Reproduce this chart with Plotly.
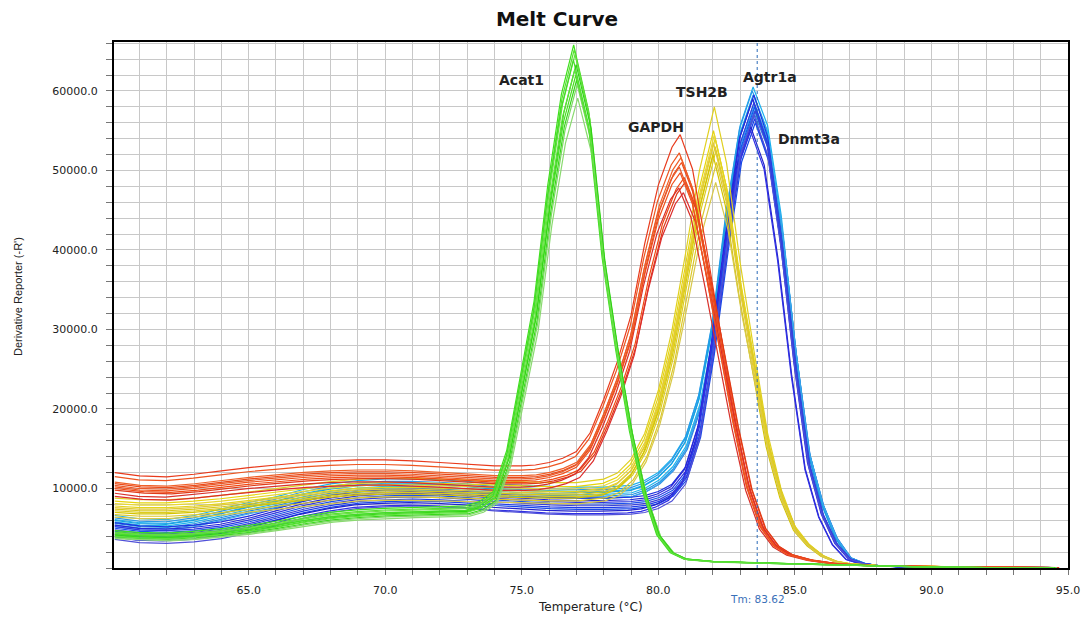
import numpy as np
import plotly.graph_objects as go

# ---------------- data ----------------
gene_names = ["Agtr1a", "Dnmt3a", "TSH2B", "GAPDH", "Acat1"]

acat1_temps = [60.1, 61, 62, 63, 64, 65, 66, 67, 68, 69, 70, 71, 72, 73, 73.5, 74, 74.5, 75,
               75.5, 76, 76.5, 76.95, 77.5, 78, 78.5, 79, 79.5, 80, 80.5, 81, 82, 84, 86, 88,
               90, 92, 94.5]
acat1_deriv = [4300, 4100, 4000, 4200, 4500, 4900, 5400, 6000, 6500, 6800, 7000, 7100, 7200,
               7300, 7800, 9000, 14000, 23000, 32000, 46000, 57000, 63000, 55000, 38500,
               27000, 17000, 9300, 4100, 1900, 1100, 800, 600, 450, 250, 120, 60, 30]
acat1_peaks = [65800, 62000, 65200, 61400, 64600, 60800, 63900, 59100, 63300, 62700]
acat1_base = [4700, 4300, 4500, 3900, 4400, 3800, 4200, 3700, 4100, 4000]
acat1_shift = [-0.05, 0.03, -0.03, 0.06, 0.0, 0.08, -0.06, 0.1, 0.04, -0.01]

gapdh_temps = [60.1, 61, 62, 63, 64, 65, 66, 67, 68, 69, 70, 71, 72, 73, 74, 75, 75.5, 76,
               76.5, 77, 77.5, 78, 78.5, 79, 79.5, 80, 80.5, 80.8, 81.25, 81.75, 82.25, 82.75,
               83.25, 83.75, 84.25, 84.75, 85.5, 86.5, 88, 90, 92, 94.5]
gapdh_deriv = [10300, 9900, 9800, 10100, 10500, 10900, 11200, 11500, 11700, 11800, 11800,
               11700, 11500, 11300, 11100, 11100, 11200, 11500, 12000, 12800, 15000, 19000,
               23500, 29000, 37500, 44500, 49000, 50500, 46500, 37500, 28000, 18500, 10300,
               5200, 2800, 1700, 1000, 500, 250, 150, 100, 60]
gapdh_peaks = [54500, 49100, 52200, 48500, 51600, 47800, 51000, 47200, 50400, 49700]
gapdh_base = [12000, 10000, 11500, 9800, 10800, 9400, 10600, 9000, 10400, 10200]
gapdh_shift = [0.0, 0.15, -0.03, 0.18, 0.03, -0.05, 0.05, 0.12, -0.03, 0.0]

tsh2b_temps = [60.1, 61, 62, 63, 64, 65, 66, 67, 68, 69, 70, 71, 72, 73, 74, 75, 76, 77, 78,
               78.5, 79, 79.5, 80, 80.5, 81, 81.5, 82.05, 82.5, 83, 83.5, 84, 84.5, 85, 85.5,
               86, 86.5, 87, 88, 90, 92, 94.5]
tsh2b_deriv = [7500, 7300, 7300, 7500, 7800, 8200, 8600, 9000, 9400, 9700, 9800, 9800, 9700,
               9600, 9500, 9400, 9300, 9300, 9700, 10400, 12000, 15000, 20000, 27000, 36000,
               45500, 53000, 46500, 35000, 25000, 15500, 9000, 4800, 2800, 1500, 800, 500,
               300, 150, 80, 40]
tsh2b_peaks = [58000, 53000, 55000, 52500, 54500, 52000, 54000, 51000, 53500, 48500]
tsh2b_base = [8800, 7400, 8400, 7200, 8100, 7000, 7800, 6700, 7600, 6400]
tsh2b_shift = [0.0, 0.03, -0.03, 0.06, 0.0, -0.05, 0.03, 0.08, -0.03, 0.05]

agtr1a_temps = [60.1, 61, 62, 63, 64, 65, 66, 67, 68, 69, 70, 71, 72, 73, 74, 75, 76, 77, 78,
                79, 79.5, 80, 80.5, 81, 81.5, 82, 82.5, 83, 83.47, 84, 84.5, 85, 85.5, 86,
                86.5, 87, 87.5, 88, 89, 91, 94.5]
agtr1a_deriv = [6000, 5600, 5500, 6000, 6800, 7600, 8300, 9200, 9900, 10300, 10500, 10500,
                10400, 10200, 9900, 9700, 9600, 9500, 9500, 9700, 10300, 11300, 13000, 15700,
                21000, 30000, 43500, 54000, 58700, 54000, 43000, 27500, 14500, 8000, 3800,
                1300, 600, 300, 150, 80, 40]
agtr1a_peaks = [60500, 58000, 60000, 57500, 59500, 57000, 59000, 58500]
agtr1a_base = [6600, 5800, 6300, 5600, 6100, 5400, 6000, 5200]
agtr1a_shift = [0.0, 0.03, -0.03, 0.05, 0.0, 0.06, -0.03, 0.03]

dnmt3a_temps = [60.1, 61, 62, 63, 64, 65, 66, 67, 68, 69, 70, 71, 72, 73, 74, 75, 76, 77, 78,
                79, 79.5, 80, 80.5, 81, 81.5, 82, 82.5, 83, 83.5, 84, 84.5, 85, 85.5, 86, 86.5,
                87, 87.5, 88, 89, 91, 94.5]
dnmt3a_deriv = [4800, 4400, 4300, 4500, 4900, 5600, 6500, 7400, 8100, 8600, 8800, 8900, 8800,
                8600, 8300, 8100, 7900, 7800, 7800, 7900, 8100, 8600, 9500, 11600, 17000,
                27500, 40500, 52000, 57000, 52000, 40000, 25000, 12800, 6600, 3000, 1100, 550,
                300, 150, 80, 40]
dnmt3a_peaks = [59500, 56500, 59000, 56000, 58500, 55500, 58000, 55000, 57500, 57000]
dnmt3a_base = [5700, 4600, 5400, 4400, 5200, 4200, 5000, 3900, 4800, 3600]
dnmt3a_shift = [0.0, 0.03, -0.04, 0.05, 0.0, -0.12, 0.03, -0.13, 0.05, 0.0]

x_tick_vals = [65, 70, 75, 80, 85, 90, 95]
y_tick_vals = [10000, 20000, 30000, 40000, 50000, 60000]
tm_value = 83.62

label_text = ["Acat1", "GAPDH", "TSH2B", "Agtr1a", "Dnmt3a"]
label_x = [75.0, 79.9, 81.6, 84.1, 85.5]
label_y = [61400, 55500, 59800, 61800, 53900]

# ---------------- styles ----------------
colors = {
    "Acat1": ["#3ee01c", "#4ade22", "#56e030", "#36d818", "#66e040", "#7ad860", "#44dc28",
              "#8ada70", "#30d414", "#5ee23a"],
    "GAPDH": ["#e83a1c", "#f04a14", "#ee5520", "#e03a18", "#f06028", "#d8302a", "#ea4a1a",
              "#dc2c2c", "#e85a2a", "#f0501c"],
    "TSH2B": ["#e0d020", "#d8c818", "#e6d40c", "#dccc20", "#e8d830", "#d4c400", "#e4d41c",
              "#dcc828", "#e0c838", "#d8c848"],
    "Agtr1a": ["#19b0ee", "#1fb4ec", "#2a98e8", "#1e8ee0", "#22b0f0", "#2c84e4", "#18a0e0",
               "#3aa8ea"],
    "Dnmt3a": ["#2030e0", "#1e3ae8", "#2828d8", "#1848e8", "#3038e0", "#2222cc", "#1a50ec",
               "#2f2fe4", "#3a40d8", "#5050d8"],
}

genes = {
    "Dnmt3a": (dnmt3a_temps, dnmt3a_deriv, dnmt3a_peaks, dnmt3a_base, dnmt3a_shift),
    "Agtr1a": (agtr1a_temps, agtr1a_deriv, agtr1a_peaks, agtr1a_base, agtr1a_shift),
    "TSH2B": (tsh2b_temps, tsh2b_deriv, tsh2b_peaks, tsh2b_base, tsh2b_shift),
    "GAPDH": (gapdh_temps, gapdh_deriv, gapdh_peaks, gapdh_base, gapdh_shift),
    "Acat1": (acat1_temps, acat1_deriv, acat1_peaks, acat1_base, acat1_shift),
}


def replicate(temps, deriv, peak_i, base_i, shift_i):
    """Rescale the read mean curve to a replicate's read peak height, start level and offset."""
    m = np.asarray(deriv, dtype=float)
    pk = m.max()
    ipk = int(m.argmax())
    s = peak_i / pk
    f = np.clip(1 - m / pk, 0, 1)
    f[ipk:] = 0
    f = f / f[0]
    y = m * s + (base_i - m[0] * s) * f
    x = np.asarray(temps, dtype=float) + shift_i
    x[0] = temps[0]
    return x, y


fig = go.Figure()
for name in gene_names:
    temps, deriv, peaks, bases, shifts = genes[name]
    for i, (p, b, sh) in enumerate(zip(peaks, bases, shifts)):
        x, y = replicate(temps, deriv, p, b, sh)
        fig.add_trace(go.Scatter(
            x=x, y=y, mode="lines",
            line=dict(color=colors[name][i % len(colors[name])], width=1.2),
            showlegend=False, hoverinfo="skip", name=name))

WIDE = "DejaVu Sans, Verdana, sans-serif"
NARROW = "Arial, Liberation Sans, sans-serif"
grid_col = "#c8c8c8"

fig.update_layout(
    width=1082, height=621, autosize=False,
    margin=dict(l=114, r=14, t=42, b=53, autoexpand=False),
    paper_bgcolor="white", plot_bgcolor="white",
    showlegend=False,
    title=dict(text="<b>Melt Curve</b>", x=557 / 1082, xanchor="center", y=1 - 19 / 621,
               yanchor="middle", font=dict(family=WIDE, size=20, color="#111")),
    font=dict(family=WIDE, color="#222"),
)

fig.update_xaxes(
    range=[60.07, 95.0], tickmode="array", tickvals=x_tick_vals,
    ticktext=[f"{v:.1f}" for v in x_tick_vals], automargin=False,
    ticks="outside", ticklen=5, tickcolor="#777",
    tickfont=dict(family=WIDE, size=11, color="#222"),
    ticklabelstandoff=6,
    showgrid=True, gridcolor=grid_col, gridwidth=1,
    minor=dict(tick0=61, dtick=1, showgrid=True, gridcolor=grid_col, gridwidth=1,
               ticks="outside", ticklen=5, tickcolor="#777"),
    showline=True, linecolor="black", linewidth=2, mirror=True, zeroline=False,
)
fig.update_yaxes(
    range=[0, 66150], tickmode="array", tickvals=y_tick_vals,
    ticktext=[f"{v:.1f}" for v in y_tick_vals], automargin=False,
    ticks="outside", ticklen=6, tickcolor="#777",
    tickfont=dict(family=WIDE, size=11, color="#222"),
    ticklabelstandoff=6,
    showgrid=True, gridcolor=grid_col, gridwidth=1,
    minor=dict(tick0=0, dtick=2000, showgrid=True, gridcolor=grid_col, gridwidth=1,
               ticks="outside", ticklen=6, tickcolor="#777"),
    showline=True, linecolor="black", linewidth=2, mirror=True, zeroline=False,
)

# Tm marker
fig.add_shape(type="line", x0=tm_value, x1=tm_value, xref="x", y0=0, y1=1, yref="paper",
              line=dict(color="#2a6ab8", width=1, dash="dot"))
fig.add_annotation(x=tm_value, xref="x", y=(568 - 599) / 526, yref="paper",
                   text=f"Tm: {tm_value:.2f}", showarrow=False,
                   font=dict(family=WIDE, size=10.5, color="#3a70b8"),
                   xanchor="center", yanchor="middle")

# axis titles
fig.add_annotation(x=(590 - 114) / 954, xref="paper", y=(568 - 607) / 526, yref="paper",
                   text="Temperature (°C)", showarrow=False,
                   font=dict(family=WIDE, size=12, color="#222"),
                   xanchor="center", yanchor="middle")
fig.add_annotation(x=(18 - 114) / 954, xref="paper", y=(568 - 297) / 526, yref="paper",
                   text="Derivative Reporter (-R')", showarrow=False, textangle=-90,
                   font=dict(family=NARROW, size=11, color="#222"),
                   xanchor="center", yanchor="middle")

# curve labels
for t, lx, ly in zip(label_text, label_x, label_y):
    fig.add_annotation(x=lx, y=ly, xref="x", yref="y", text=f"<b>{t}</b>", showarrow=False,
                       font=dict(family=WIDE, size=14, color="#222"),
                       xanchor="center", yanchor="middle")

fig.write_html("out.html", config={"displayModeBar": False},
               post_script="document.body.style.margin='0px';")
